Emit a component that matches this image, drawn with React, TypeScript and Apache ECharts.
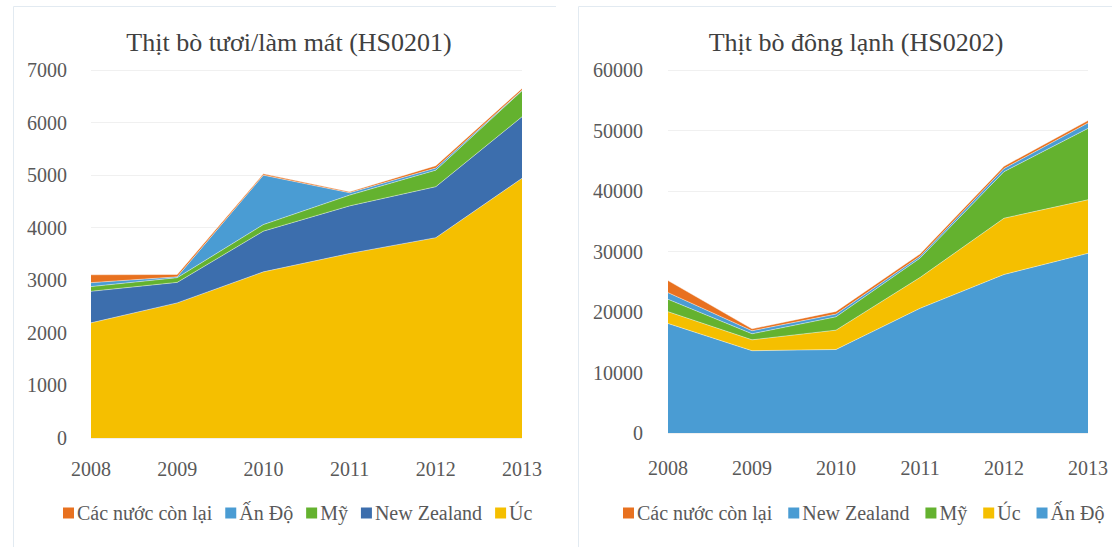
import React, { useEffect, useRef } from "react";
import * as echarts from "echarts";

const years = ["2008", "2009", "2010", "2011", "2012", "2013"];

// Left chart: Thịt bò tươi/làm mát (HS0201)
const freshUc = [2190, 2570, 3160, 3510, 3810, 4940];
const freshNZ = [600, 390, 775, 905, 970, 1170];
const freshMy = [90, 90, 125, 205, 315, 495];
const freshAnDo = [75, 15, 940, 45, 40, 10];
const freshOther = [150, 45, 25, 20, 45, 35];

// Right chart: Thịt bò đông lạnh (HS0202)
const frozenAnDo = [18100, 13600, 13800, 20600, 26200, 29700];
const frozenUc = [1950, 1800, 3200, 5100, 9300, 8850];
const frozenMy = [2050, 1000, 2200, 3200, 7700, 11800];
const frozenNZ = [1100, 500, 450, 300, 500, 900];
const frozenOther = [2000, 320, 450, 400, 400, 400];

const FONT = "Liberation Serif";
const C_ORANGE = "#E8711F";
const C_LBLUE = "#4A9CD3";
const C_GREEN = "#64B22F";
const C_DBLUE = "#3C6EAD";
const C_YELLOW = "#F5BF00";

function areaSeries(name: string, data: number[], color: string, stack: string) {
  return {
    name,
    type: "line",
    stack,
    data,
    symbol: "none",
    showSymbol: false,
    lineStyle: { width: 0.8, color: "rgba(255,255,255,0.55)" },
    areaStyle: { color, opacity: 1 },
    itemStyle: { color },
    emphasis: { disabled: true },
  };
}

function baseOption(opts: {
  title: string;
  titleX: number;
  grid: any;
  yMax: number;
  yInterval: number;
  yMargin: number;
  xMargin: number;
  legendLeft: number;
  legendGap: number;
  legendData: string[];
  series: any[];
  border: { x: number; y: number; w: number; h: number };
}) {
  return {
    animation: false,
    backgroundColor: "#ffffff",
    title: {
      text: opts.title,
      left: opts.titleX,
      top: 24,
      textAlign: "center",
      textStyle: { fontFamily: FONT, fontWeight: "normal", fontSize: 26, color: "#404040" },
    },
    graphic: [
      {
        type: "rect",
        shape: { x: opts.border.x, y: opts.border.y, width: opts.border.w, height: opts.border.h },
        style: { fill: "none", stroke: "#E2EAF1", lineWidth: 1 },
        silent: true,
        z: -1,
      },
    ],
    legend: {
      data: opts.legendData,
      left: opts.legendLeft,
      top: 498,
      itemWidth: 11,
      itemHeight: 11,
      itemGap: opts.legendGap,
      icon: "rect",
      textStyle: { fontFamily: FONT, fontSize: 20, color: "#595959", padding: [0, 0, 0, -2] },
    },
    grid: opts.grid,
    xAxis: {
      type: "category",
      data: years,
      boundaryGap: false,
      axisLine: { show: false },
      axisTick: { show: false },
      axisLabel: { fontFamily: FONT, fontSize: 20, color: "#595959", margin: opts.xMargin },
      splitLine: { show: false },
    },
    yAxis: {
      type: "value",
      min: 0,
      max: opts.yMax,
      interval: opts.yInterval,
      axisLine: { show: false },
      axisTick: { show: false },
      axisLabel: {
        fontFamily: FONT,
        fontSize: 20,
        color: "#595959",
        margin: opts.yMargin,
        formatter: (v: number) => String(v),
      },
      splitLine: { show: true, lineStyle: { color: "#F0F0F0", width: 1 } },
    },
    series: opts.series,
  };
}

function useChart(option: any) {
  const ref = useRef<HTMLDivElement>(null);
  useEffect(() => {
    if (!ref.current) return;
    const chart = echarts.init(ref.current, null, { renderer: "svg" });
    chart.setOption(option);
    return () => chart.dispose();
  }, []);
  return ref;
}

const RIGHT_W = 600;

export default function App() {
  const leftOption = baseOption({
    title: "Thịt bò tươi/làm mát (HS0201)",
    titleX: 284,
    grid: { left: 91, right: 556 - 522, top: 70, bottom: 547 - 438 },
    yMax: 7000,
    yInterval: 1000,
    yMargin: 24,
    xMargin: 21,
    legendLeft: 58,
    legendGap: 13,
    legendData: ["Các nước còn lại", "Ấn Độ", "Mỹ", "New Zealand", "Úc"],
    series: [
      areaSeries("Úc", freshUc, C_YELLOW, "a"),
      areaSeries("New Zealand", freshNZ, C_DBLUE, "a"),
      areaSeries("Mỹ", freshMy, C_GREEN, "a"),
      areaSeries("Ấn Độ", freshAnDo, C_LBLUE, "a"),
      areaSeries("Các nước còn lại", freshOther, C_ORANGE, "a"),
    ],
    border: { x: 13.5, y: 6.5, w: 543, h: 600 },
  });

  const rightOption = baseOption({
    title: "Thịt bò đông lạnh (HS0202)",
    titleX: 851 - 556,
    grid: { left: 668 - 556, right: RIGHT_W - (1088 - 556), top: 70, bottom: 547 - 433 },
    yMax: 60000,
    yInterval: 10000,
    yMargin: 25,
    xMargin: 25,
    legendLeft: 618 - 556,
    legendGap: 16,
    legendData: ["Các nước còn lại", "New Zealand", "Mỹ", "Úc", "Ấn Độ"],
    series: [
      areaSeries("Ấn Độ", frozenAnDo, C_LBLUE, "b"),
      areaSeries("Úc", frozenUc, C_YELLOW, "b"),
      areaSeries("Mỹ", frozenMy, C_GREEN, "b"),
      areaSeries("New Zealand", frozenNZ, C_LBLUE, "b"),
      areaSeries("Các nước còn lại", frozenOther, C_ORANGE, "b"),
    ],
    border: { x: 22.5, y: 6.5, w: 620, h: 600 },
  });

  const leftRef = useChart(leftOption);
  const rightRef = useChart(rightOption);

  return (
    <div
      style={{
        position: "fixed",
        left: 0,
        top: 0,
        width: 1112,
        height: 547,
        background: "#fff",
        overflow: "hidden",
      }}
    >
      <div ref={leftRef} style={{ position: "absolute", left: 0, top: 0, width: 556, height: 547 }} />
      <div ref={rightRef} style={{ position: "absolute", left: 556, top: 0, width: RIGHT_W, height: 547 }} />
    </div>
  );
}
